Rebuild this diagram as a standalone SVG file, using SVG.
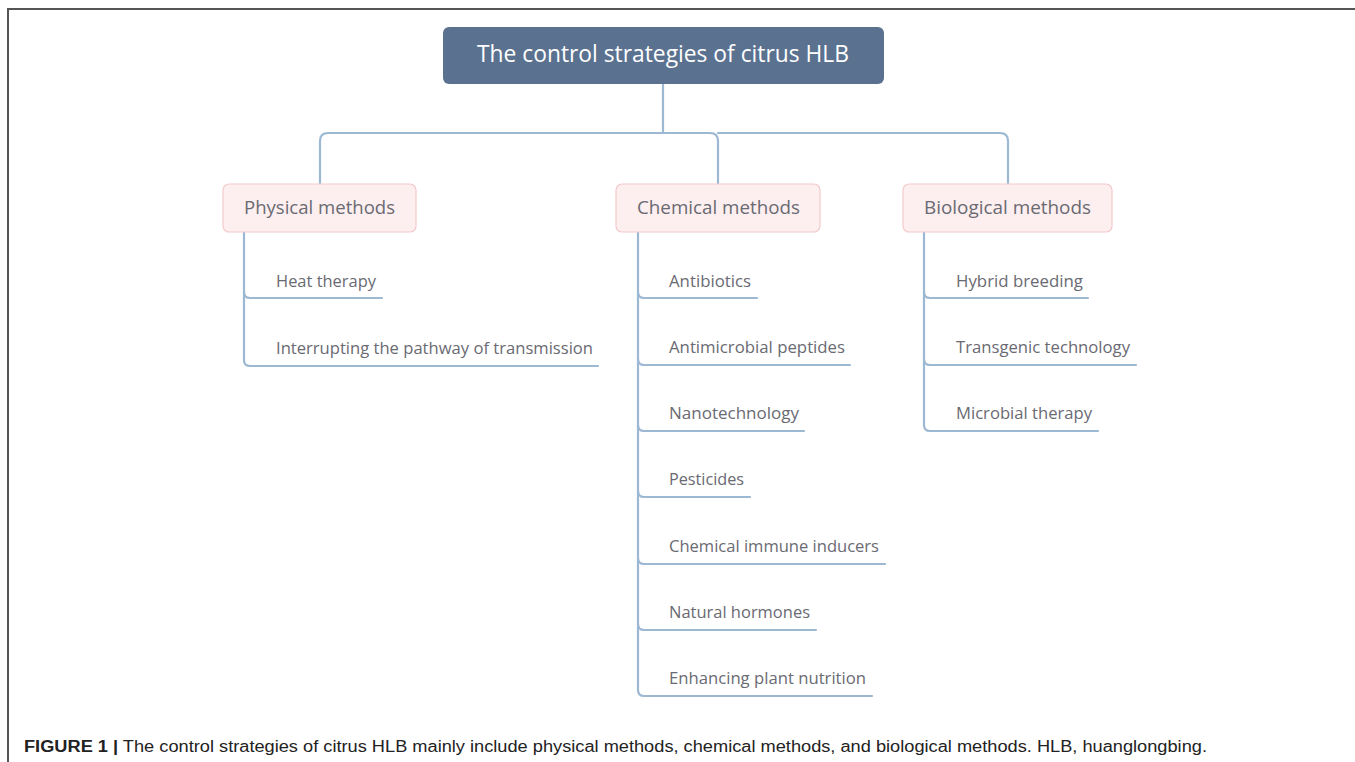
<svg xmlns="http://www.w3.org/2000/svg" width="1355" height="762" viewBox="0 0 1355 762">
<style>
.frame{fill:none;stroke:#555;stroke-width:2}
.con{fill:none;stroke:#9db8d3;stroke-width:2.2;stroke-linecap:round}
.root{fill:#5a7290}
.rootT{fill:#fff;font-family:"Open Sans","Noto Sans",sans-serif;font-size:23px}
.cat{fill:#fdeff0;stroke:#f2caca;stroke-width:1.2}
.catT{fill:#6a6a72;font-family:"Open Sans","Noto Sans",sans-serif;font-size:19px}
.leafT{fill:#6a6a72;font-family:"Open Sans","Noto Sans",sans-serif;font-size:17px}
.cap{fill:#222;font-family:"Liberation Sans",Arial,sans-serif;font-size:16px}
</style>
<rect width="1355" height="762" fill="#fff"/>
<path class="frame" d="M8,762 V9 H1355"/>
<g id="connectors">
<path class="con" d="M663,84 V133"/>
<path class="con" d="M320,184 V141 Q320,133 328,133 H710 Q718,133 718,141 V184"/>
<path class="con" d="M718,133 H1000 Q1008,133 1008,141 V184"/>
<path class="con" d="M244,232 V292 Q244,298 250,298 H382"/>
<path class="con" d="M244,292 V360 Q244,366 250,366 H598"/>
<path class="con" d="M638,232 V292 Q638,298 644,298 H757"/>
<path class="con" d="M638,292 V359 Q638,365 644,365 H850"/>
<path class="con" d="M638,359 V425 Q638,431 644,431 H804"/>
<path class="con" d="M638,425 V491 Q638,497 644,497 H750"/>
<path class="con" d="M638,491 V558 Q638,564 644,564 H885"/>
<path class="con" d="M638,558 V624 Q638,630 644,630 H816"/>
<path class="con" d="M638,624 V690 Q638,696 644,696 H872"/>
<path class="con" d="M924,232 V292 Q924,298 930,298 H1088"/>
<path class="con" d="M924,292 V359 Q924,365 930,365 H1136"/>
<path class="con" d="M924,359 V425 Q924,431 930,431 H1098"/>
</g>
<g id="root">
<rect class="root" x="443" y="27" width="441" height="57" rx="6"/>
<text class="rootT" x="477" y="62" textLength="372" lengthAdjust="spacingAndGlyphs">The control strategies of citrus HLB</text>
</g>
<g id="physical">
<rect class="cat" x="223" y="184" width="193" height="48" rx="6"/>
<text class="catT" x="244" y="214" textLength="151" lengthAdjust="spacingAndGlyphs">Physical methods</text>
</g>
<g id="chemical">
<rect class="cat" x="616" y="184" width="204" height="48" rx="6"/>
<text class="catT" x="637" y="214" textLength="163" lengthAdjust="spacingAndGlyphs">Chemical methods</text>
</g>
<g id="biological">
<rect class="cat" x="903" y="184" width="209" height="48" rx="6"/>
<text class="catT" x="924" y="214" textLength="167" lengthAdjust="spacingAndGlyphs">Biological methods</text>
</g>
<g id="heat"><text class="leafT" x="276" y="287" textLength="100" lengthAdjust="spacingAndGlyphs">Heat therapy</text></g>
<g id="interrupt"><text class="leafT" x="276" y="354" textLength="317" lengthAdjust="spacingAndGlyphs">Interrupting the pathway of transmission</text></g>
<g id="antibiotics"><text class="leafT" x="669" y="287" textLength="82" lengthAdjust="spacingAndGlyphs">Antibiotics</text></g>
<g id="amp"><text class="leafT" x="669" y="353" textLength="176" lengthAdjust="spacingAndGlyphs">Antimicrobial peptides</text></g>
<g id="nano"><text class="leafT" x="669" y="419" textLength="130" lengthAdjust="spacingAndGlyphs">Nanotechnology</text></g>
<g id="pesticides"><text class="leafT" x="669" y="485" textLength="75" lengthAdjust="spacingAndGlyphs">Pesticides</text></g>
<g id="immune"><text class="leafT" x="669" y="552" textLength="210" lengthAdjust="spacingAndGlyphs">Chemical immune inducers</text></g>
<g id="hormones"><text class="leafT" x="669" y="618" textLength="141" lengthAdjust="spacingAndGlyphs">Natural hormones</text></g>
<g id="nutrition"><text class="leafT" x="669" y="684" textLength="197" lengthAdjust="spacingAndGlyphs">Enhancing plant nutrition</text></g>
<g id="hybrid"><text class="leafT" x="956" y="287" textLength="127" lengthAdjust="spacingAndGlyphs">Hybrid breeding</text></g>
<g id="transgenic"><text class="leafT" x="956" y="353" textLength="174" lengthAdjust="spacingAndGlyphs">Transgenic technology</text></g>
<g id="microbial"><text class="leafT" x="956" y="419" textLength="136" lengthAdjust="spacingAndGlyphs">Microbial therapy</text></g>
<text class="cap" x="24" y="752" textLength="1183" lengthAdjust="spacingAndGlyphs"><tspan font-weight="bold">FIGURE 1 |</tspan> The control strategies of citrus HLB mainly include physical methods, chemical methods, and biological methods. HLB, huanglongbing.</text>
</svg>
